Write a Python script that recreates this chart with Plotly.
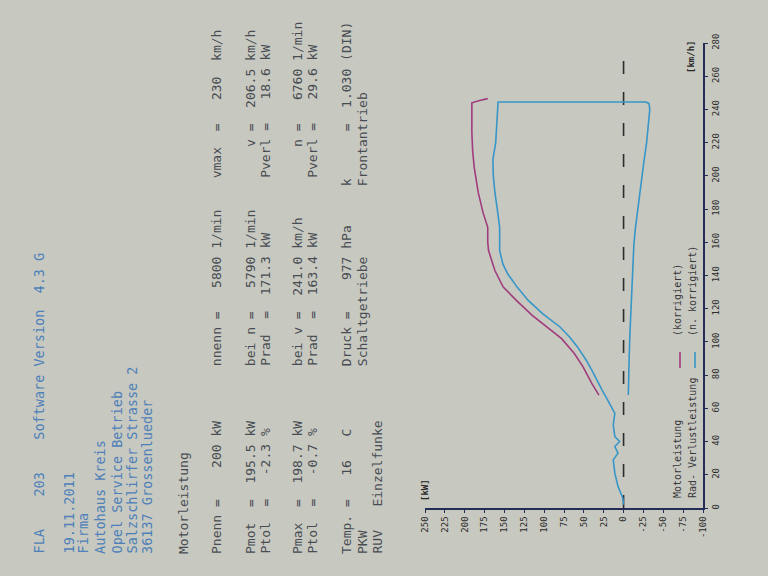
import plotly.graph_objects as go

# ---------------- data ----------------
# Rad-/Verlustleistung (n. korrigiert) – blue curve, in drawing order
BLUE_SPEED = [2, 6, 13, 21, 29, 33, 37, 40, 43, 50,
              57, 60, 65, 71, 77, 83, 89, 97, 103, 109,
              117, 125, 133, 141, 147, 155, 162, 169, 180, 190,
              200, 210, 220, 230, 240, 244.5, 244.5, 243.5, 240, 230,
              220, 210, 199, 189, 179, 169, 159, 149, 135, 120,
              105, 90, 80, 68]
BLUE_KW = [0, 1, 7, 11, 13, 7, 11, 5, 11, 13,
           11, 14, 20, 27, 33, 40, 47, 58, 68, 80,
           102, 120, 134, 146, 152, 156, 156, 156, 159, 162,
           164, 164.5, 161, 159.5, 158, 158, -28, -32, -33, -31,
           -29, -26, -23, -20, -17, -15, -13, -12, -10.5, -9,
           -8, -7, -6.5, -6]

# Motorleistung (korrigiert) – magenta curve
MAG_SPEED = [68, 75, 85, 93, 102, 108, 116, 125, 133, 143, 151, 155,
             160, 169, 178, 190, 205, 215, 226, 236, 244, 245.5, 246.5]
MAG_KW = [31, 40, 51, 62, 78, 94, 115, 135, 151.5, 162, 168, 170,
          171, 171, 177, 183, 188, 190, 191, 191, 191, 180, 171]

ZERO_SPEED = [0, 280]
ZERO_KW = [0, 0]

KW_TICKS = [250, 225, 200, 175, 150, 125, 100, 75, 50, 25, 0, -25, -50, -75, -100]
KW_LABELS = [str(v) for v in KW_TICKS]
SPEED_TICKS = [0, 20, 40, 60, 80, 100, 120, 140, 160, 180, 200, 220, 240, 260, 280]
SPEED_LABELS = [str(v) for v in SPEED_TICKS]

HEADER_BLUE = [
    "FLA    203    Software Version  4.3 G",
    "19.11.2011",
    "Firma",
    "Autohaus Kreis",
    "Opel Service Betrieb",
    "Salzschlirfer Strasse 2",
    "36137 Grossenlueder",
]
HEADER_BLACK = [
    "Motorleistung",
    "Pnenn =    200 kW       nnenn =   5800 1/min    vmax  =   230  km/h",
    "Pmot  =  195.5 kW       bei n =   5790 1/min        v =  206.5 km/h",
    "Ptol  =   -2.3 %        Prad  =  171.3 kW       Pverl =   18.6 kW",
    "Pmax  =  198.7 kW       bei v =  241.0 km/h         n =   6760 1/min",
    "Ptol  =   -0.7 %        Prad  =  163.4 kW       Pverl =   29.6 kW",
    "Temp. =   16   C        Druck =    977 hPa     k      =  1.030 (DIN)",
    "PKW                     Schaltgetriebe         Frontantrieb",
    "RUV   Einzelfunke",
]
LEGEND_NAMES = ["Motorleistung", "Rad- Verlustleistung"]
LEGEND_NOTES = ["(korrigiert)", "(n. korrigiert)"]

# ---------------- styling / layout ----------------
W, H = 768, 576
L, R, T, B = 425, 65, 43, 68
PW, PH = W - L - R, H - T - B

def px(xp):
    return (xp - L) / PW

def py(yp):
    return (H - B - yp) / PH

PAPER = "rgb(199,200,192)"
INK = "rgb(72,76,82)"
BLUE_INK = "rgb(78,128,185)"
AXIS = "rgb(38,44,88)"
C_BLUE = "rgb(55,150,200)"
C_MAG = "rgb(160,60,125)"
MONO = "DejaVu Sans Mono"

fig = go.Figure()

fig.add_trace(go.Scatter(x=ZERO_KW, y=ZERO_SPEED, mode="lines",
                         line=dict(color="rgb(45,45,45)", width=1.6, dash="13px,18px"),
                         hoverinfo="skip", showlegend=False))
fig.add_trace(go.Scatter(x=BLUE_KW, y=BLUE_SPEED, mode="lines",
                         line=dict(color=C_BLUE, width=1.6),
                         name="Rad- Verlustleistung (n. korrigiert)", showlegend=False))
fig.add_trace(go.Scatter(x=MAG_KW, y=MAG_SPEED, mode="lines",
                         line=dict(color=C_MAG, width=1.6),
                         name="Motorleistung (korrigiert)", showlegend=False))

annotations = []

def nb(s):
    return s.replace(" ", "\u00a0")

blue_x = [38, 68, 82, 100, 116, 131, 147]
for txt, xp in zip(HEADER_BLUE, blue_x):
    annotations.append(dict(x=px(xp), y=py(556), xref="paper", yref="paper",
                            text=nb(txt), showarrow=False, textangle=-90,
                            xanchor="center", yanchor="bottom",
                            font=dict(family=MONO, size=13.5, color=BLUE_INK)))

black_x = [183, 216, 250, 265, 297, 312, 346, 362, 377]
for txt, xp in zip(HEADER_BLACK, black_x):
    annotations.append(dict(x=px(xp), y=py(556), xref="paper", yref="paper",
                            text=nb(txt), showarrow=False, textangle=-90,
                            xanchor="center", yanchor="bottom",
                            font=dict(family=MONO, size=13, color=INK)))

# axis unit labels
annotations.append(dict(x=px(425), y=py(503), xref="paper", yref="paper",
                        text="<b>[kW]</b>", showarrow=False, textangle=-90,
                        xanchor="center", yanchor="bottom",
                        font=dict(family=MONO, size=9, color="rgb(40,40,40)")))
annotations.append(dict(x=px(691), y=py(57), xref="paper", yref="paper",
                        text="<b>[km/h]</b>", showarrow=False, textangle=-90,
                        xanchor="center", yanchor="middle",
                        font=dict(family=MONO, size=9, color="rgb(40,40,40)")))

# legend (rotated, as printed)
for txt, xp in zip(LEGEND_NAMES, [677, 692]):
    annotations.append(dict(x=px(xp), y=py(500), xref="paper", yref="paper",
                            text=nb(txt), showarrow=False, textangle=-90,
                            xanchor="center", yanchor="bottom",
                            font=dict(family=MONO, size=10, color="rgb(55,55,60)")))
for txt, xp in zip(LEGEND_NOTES, [677, 692]):
    annotations.append(dict(x=px(xp), y=py(338), xref="paper", yref="paper",
                            text=nb(txt), showarrow=False, textangle=-90,
                            xanchor="center", yanchor="bottom",
                            font=dict(family=MONO, size=10, color="rgb(55,55,60)")))

shapes = [
    dict(type="line", xref="paper", yref="paper", x0=px(680), x1=px(680),
         y0=py(368), y1=py(352), line=dict(color=C_MAG, width=1.6)),
    dict(type="line", xref="paper", yref="paper", x0=px(695), x1=px(695),
         y0=py(368), y1=py(352), line=dict(color=C_BLUE, width=1.6)),
]

fig.update_layout(
    width=W, height=H,
    margin=dict(l=L, r=R, t=T, b=B, pad=0),
    paper_bgcolor=PAPER, plot_bgcolor=PAPER,
    showlegend=False,
    annotations=annotations,
    shapes=shapes,
    xaxis=dict(range=[250, -100], tickmode="array", tickvals=KW_TICKS, ticktext=KW_LABELS,
               tickangle=-90, showgrid=False, zeroline=False,
               showline=True, linecolor=AXIS, linewidth=1.6,
               ticks="outside", ticklen=3, tickcolor=AXIS,
               tickfont=dict(family=MONO, size=9, color="rgb(45,45,45)")),
    yaxis=dict(range=[0, 280], side="right", tickmode="array", tickvals=SPEED_TICKS,
               ticktext=SPEED_LABELS, tickangle=-90, showgrid=False, zeroline=False,
               showline=True, linecolor=AXIS, linewidth=1.6,
               ticks="outside", ticklen=3, tickcolor=AXIS,
               tickfont=dict(family=MONO, size=9, color="rgb(45,45,45)")),
)

fig.write_html(
    "out.html",
    config={"displayModeBar": False},
    post_script="document.body.style.margin='0';document.body.style.padding='0';"
                "document.body.style.background='rgb(199,200,192)';",
)
